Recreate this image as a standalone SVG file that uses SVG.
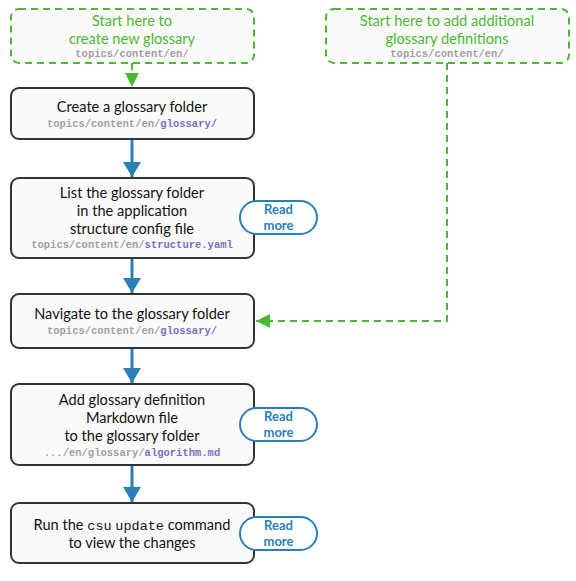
<svg xmlns="http://www.w3.org/2000/svg" width="576" height="581" viewBox="0 0 576 581">
<defs>
<style>
.box{fill:#fafafa;stroke:#333;stroke-width:2}
.start{fill:#fafafa;stroke:#4cb832;stroke-width:2;stroke-dasharray:7,5}
.pill{fill:#fff;stroke:#2a7fba;stroke-width:2}
.t{font-family:Lato,"Liberation Sans",sans-serif;font-size:14.6px;fill:#111;text-anchor:middle}
.g{fill:#4cb832}
.m{font-family:"Liberation Mono",monospace;font-size:10.5px;font-weight:bold;fill:#a0a0a0;text-anchor:middle}
.p{fill:#7a6fbf}
.r{font-family:Lato,"Liberation Sans",sans-serif;font-size:13px;font-weight:bold;fill:#2a7fba;text-anchor:middle}
.c{font-family:"Liberation Mono",monospace;font-size:13.5px}
.bl{stroke:#2a7fba;stroke-width:3;fill:none}
.gl{stroke:#4cb832;stroke-width:2;fill:none;stroke-dasharray:7,5}
</style>
<marker id="ab" markerWidth="5" markerHeight="6" refX="5" refY="3" orient="auto" markerUnits="strokeWidth"><path d="M0,0L5,3L0,6z" fill="#2a7fba"/></marker>
<marker id="ag" markerWidth="7" markerHeight="7" refX="7" refY="3.5" orient="auto" markerUnits="strokeWidth"><path d="M0,0L7,3.5L0,7z" fill="#4cb832"/></marker>
</defs>
<g id="connectors">
<path class="gl" d="M132,63V87" marker-end="url(#ag)"/>
<path class="gl" d="M447,63V321H256" marker-end="url(#ag)"/>
<path class="bl" d="M132,139V177" marker-end="url(#ab)"/>
<path class="bl" d="M132,258V293" marker-end="url(#ab)"/>
<path class="bl" d="M132,348V383" marker-end="url(#ab)"/>
<path class="bl" d="M132,465V502" marker-end="url(#ab)"/>
</g>
<g id="start1">
<rect class="start" x="11" y="9" width="243" height="54" rx="8"/>
<text class="t g" x="132" y="26">Start here to</text>
<text class="t g" x="132" y="44">create new glossary</text>
<text class="m" x="132" y="57">topics/content/en/</text>
</g>
<g id="start2">
<rect class="start" x="326" y="9" width="243" height="54" rx="8"/>
<text class="t g" x="447" y="26">Start here to add additional</text>
<text class="t g" x="447" y="44">glossary definitions</text>
<text class="m" x="447" y="57">topics/content/en/</text>
</g>
<g id="step1">
<rect class="box" x="11" y="88" width="243" height="51" rx="8"/>
<text class="t" x="132" y="112">Create a glossary folder</text>
<text class="m" x="132" y="127">topics/content/en/<tspan class="p">glossary/</tspan></text>
</g>
<g id="step2">
<rect class="box" x="11" y="178" width="243" height="80" rx="8"/>
<text class="t" x="132" y="198">List the glossary folder</text>
<text class="t" x="132" y="216">in the application</text>
<text class="t" x="132" y="234">structure config file</text>
<text class="m" x="132" y="248">topics/content/en/<tspan class="p">structure.yaml</tspan></text>
</g>
<g id="more1">
<rect class="pill" x="240" y="201" width="77" height="33" rx="16.5"/>
<text class="r" x="278.5" y="214">Read</text>
<text class="r" x="278.5" y="230">more</text>
</g>
<g id="step3">
<rect class="box" x="11" y="294" width="243" height="54" rx="8"/>
<text class="t" x="132" y="319">Navigate to the glossary folder</text>
<text class="m" x="132" y="334">topics/content/en/<tspan class="p">glossary/</tspan></text>
</g>
<g id="step4">
<rect class="box" x="11" y="384" width="243" height="81" rx="8"/>
<text class="t" x="132" y="405">Add glossary definition</text>
<text class="t" x="132" y="423">Markdown file</text>
<text class="t" x="132" y="441">to the glossary folder</text>
<text class="m" x="132" y="456">.../en/glossary/<tspan class="p">algorithm.md</tspan></text>
</g>
<g id="more2">
<rect class="pill" x="240" y="408" width="77" height="33" rx="16.5"/>
<text class="r" x="278.5" y="421">Read</text>
<text class="r" x="278.5" y="437">more</text>
</g>
<g id="step5">
<rect class="box" x="11" y="503" width="243" height="60" rx="8"/>
<text class="t" x="132" y="530">Run the <tspan class="c">csu</tspan> <tspan class="c">update</tspan> command</text>
<text class="t" x="132" y="548">to view the changes</text>
</g>
<g id="more3">
<rect class="pill" x="240" y="517" width="77" height="33" rx="16.5"/>
<text class="r" x="278.5" y="530">Read</text>
<text class="r" x="278.5" y="546">more</text>
</g>
</svg>
